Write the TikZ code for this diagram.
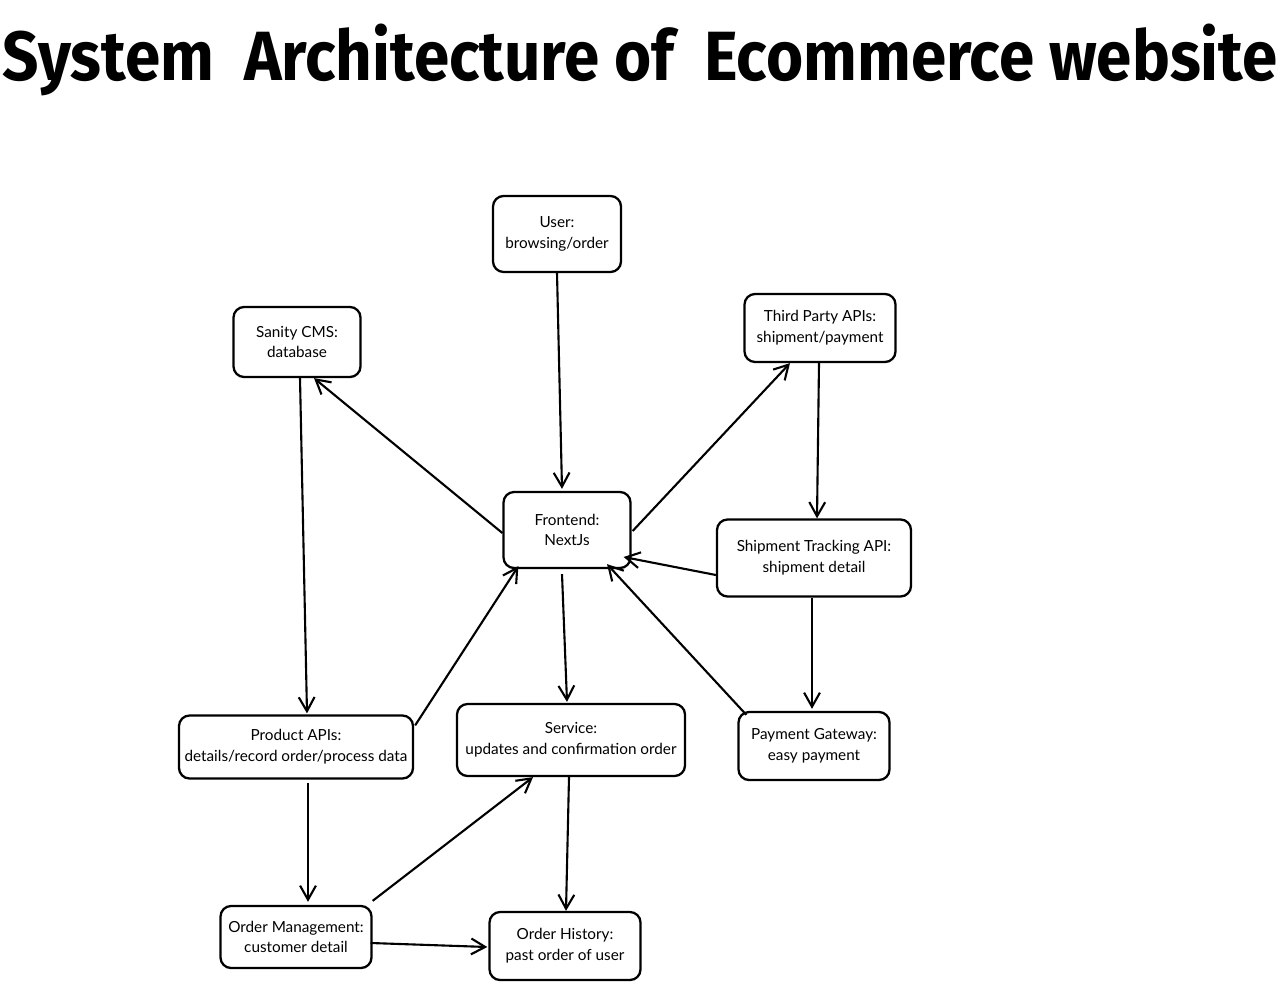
\documentclass[tikz,border=0pt]{standalone}
\usepackage{fontspec}
\setmainfont{Lato}
\newfontfamily\titlefont{Fira Sans}
\usetikzlibrary{arrows.meta,calc}
\begin{document}
\begin{tikzpicture}[x=0.02cm,y=-0.02cm,
  box/.style={draw, line width=1.3pt, rounded corners=6pt, align=center,
    font=\fontsize{8.7}{11.8}\selectfont, inner sep=1pt},
  conn/.style={line width=1.2pt, -{Straight Barb[length=8pt,width=9pt,line width=1.2pt]}}]
\useasboundingbox (0,0) rectangle (1280,989);
\node[inner sep=0pt] (title) at (640,60) {\resizebox*{25.5cm}{1.44cm}{\titlefont\bfseries System\ \ Architecture of\ \ Ecommerce website}};
\node[box, minimum width=128*0.02cm, minimum height=76*0.02cm] (usr) at (557,234) {User:\\browsing/order};
\node[box, minimum width=127*0.02cm, minimum height=70*0.02cm] (san) at (297,342) {Sanity CMS:\\database};
\node[box, minimum width=151*0.02cm, minimum height=68*0.02cm] (tp) at (820,328) {Third Party APIs:\\shipment/payment};
\node[box, minimum width=127*0.02cm, minimum height=76*0.02cm] (fe) at (567,530) {Frontend:\\NextJs};
\node[box, minimum width=194*0.02cm, minimum height=77*0.02cm] (sh) at (814,558) {Shipment Tracking API:\\shipment detail};
\node[box, minimum width=234*0.02cm, minimum height=63*0.02cm] (pa) at (296,747) {Product APIs:\\details/record order/process data};
\node[box, minimum width=228*0.02cm, minimum height=72*0.02cm] (svc) at (571,740) {Service:\\updates and confirmation order};
\node[box, minimum width=151*0.02cm, minimum height=68*0.02cm] (pg) at (814,746) {Payment Gateway:\\easy payment};
\node[box, minimum width=151*0.02cm, minimum height=62*0.02cm] (om) at (296,937) {Order Management:\\customer detail};
\node[box, minimum width=151*0.02cm, minimum height=68*0.02cm] (oh) at (565,946) {Order History:\\past order of user};

\draw[conn] (usr.south) -- ($(fe.north)+(-5,-2)$);
\draw[conn] ($(fe.west)+(0,3)$) -- ($(san.south)+(17,0)$);
\draw[conn] ($(fe.east)+(1,1)$) -- ($(tp.south)+(-30,0)$);
\draw[conn] ($(tp.south)+(-1,0)$) -- ($(sh.north)+(3,0)$);
\draw[conn] ($(sh.west)+(0,17)$) -- ($(fe.east)+(-8,27)$);
\draw[conn] ($(sh.south)+(-2,0)$) -- ($(pg.north)+(-2,-2)$);
\draw[conn] ($(pg.north west)+(9,4)$) -- ($(fe.south)+(40,-5)$);
\draw[conn] ($(fe.south)+(-5,5)$) -- ($(svc.north)+(-4,-1)$);
\draw[conn] ($(san.south)+(3,0)$) -- ($(pa.north)+(11,-1)$);
\draw[conn] ($(pa.north east)+(1,11)$) -- ($(fe.south west)+(16,-3)$);
\draw[conn] ($(pa.south)+(12,3)$) -- ($(om.north)+(12,-3)$);
\draw[conn] ($(om.north east)+(0,-4)$) -- ($(svc.south)+(-38,0)$);
\draw[conn] ($(svc.south)+(-2,0)$) -- ($(oh.north)+(1,0)$);
\draw[conn] ($(om.east)+(-2,6)$) -- ($(oh.west)+(-1,1)$);
\end{tikzpicture}
\end{document}
